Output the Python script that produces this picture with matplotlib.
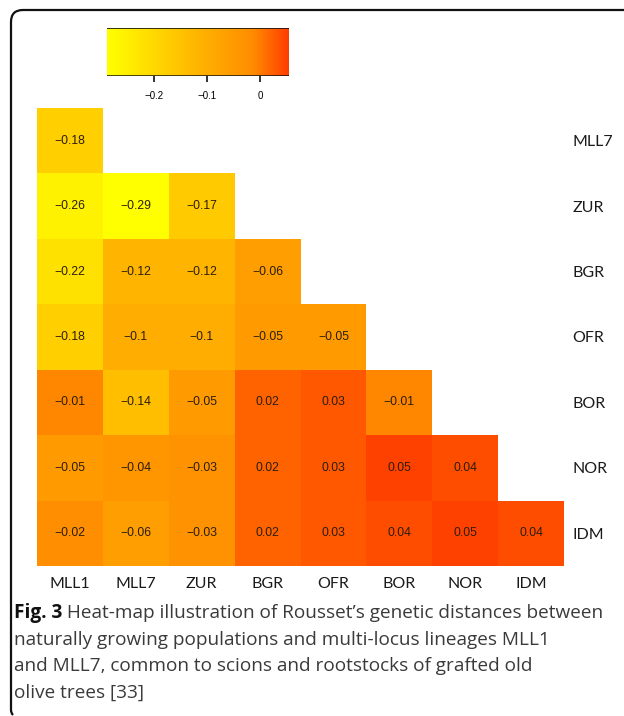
import numpy as np
import matplotlib
matplotlib.use("Agg")
import matplotlib.pyplot as plt
from matplotlib.colors import LinearSegmentedColormap
from matplotlib.path import Path
from matplotlib.patches import PathPatch

col_labels = ["MLL1", "MLL7", "ZUR", "BGR", "OFR", "BOR", "NOR", "IDM"]
row_labels = ["MLL7", "ZUR", "BGR", "OFR", "BOR", "NOR", "IDM"]

# lower-triangle rows
row_mll7 = [-0.18]
row_zur = [-0.26, -0.29, -0.17]
row_bgr = [-0.22, -0.12, -0.12, -0.06]
row_ofr = [-0.18, -0.1, -0.1, -0.05, -0.05]
row_bor = [-0.01, -0.14, -0.05, 0.02, 0.03, -0.01]
row_nor = [-0.05, -0.04, -0.03, 0.02, 0.03, 0.05, 0.04]
row_idm = [-0.02, -0.06, -0.03, 0.02, 0.03, 0.04, 0.05, 0.04]
rows = [row_mll7, row_zur, row_bgr, row_ofr, row_bor, row_nor, row_idm]

cbar_ticks = [-0.2, -0.1, 0]

caption_bold = "Fig. 3"
caption_lines = [
    " Heat-map illustration of Rousset\u2019s genetic distances between",
    "naturally growing populations and multi-locus lineages MLL1",
    "and MLL7, common to scions and rootstocks of grafted old",
    "olive trees [33]",
]

mat = np.full((len(row_labels), len(col_labels)), np.nan)
for i, r in enumerate(rows):
    mat[i, :len(r)] = r
data = np.ma.masked_invalid(mat)

cmap = LinearSegmentedColormap.from_list(
    "yor", [(0.0, "#FFFF00"), (0.5, "#FFB400"), (0.8, "#FF8C00"), (1.0, "#FF3C00")])
vmin, vmax = -0.29, 0.055

W, H = 624, 716
fig = plt.figure(figsize=(W / 100, H / 100), dpi=100)

ax = fig.add_axes([37 / W, 1 - 566 / H, 527 / W, 458 / H])
mesh = ax.pcolormesh(np.arange(len(col_labels) + 1), np.arange(len(row_labels) + 1), data,
                     cmap=cmap, vmin=vmin, vmax=vmax)
ax.set_xlim(0, len(col_labels))
ax.set_ylim(len(row_labels), 0)
for s in ax.spines.values():
    s.set_visible(False)

for i, r in enumerate(rows):
    for j, v in enumerate(r):
        ax.text(j + 0.5, i + 0.5, f"{v:g}".replace("-", "\u2212"), ha="center", va="center",
                fontsize=8.8, color="#2b1d0e", family="Liberation Sans")

ax.set_xticks(np.arange(len(col_labels)) + 0.5)
ax.set_xticklabels(col_labels, family="Lato", fontsize=11.5, color="#1a1a1a")
ax.set_yticks(np.arange(len(row_labels)) + 0.5)
ax.set_yticklabels(row_labels, family="Lato", fontsize=11.5, color="#1a1a1a")
ax.yaxis.tick_right()
ax.tick_params(axis="x", length=0, pad=8)
ax.tick_params(axis="y", length=0, pad=6)

cax = fig.add_axes([107 / W, 1 - 76 / H, 182 / W, 48 / H])
cb = fig.colorbar(mesh, cax=cax, orientation="horizontal", ticks=cbar_ticks)
cb.outline.set_visible(False)
cax.axhline(1, color="#111111", lw=1.2)
cax.axhline(0, color="#111111", lw=1.8)
cax.set_xticklabels([f"{t:g}".replace("-", "\u2212") for t in cbar_ticks],
                    family="Liberation Sans", fontsize=7)
cax.tick_params(axis="x", length=4, width=1.2, pad=7, color="#111111")

# caption
fig.canvas.draw()
renderer = fig.canvas.get_renderer()
y0 = 1 - 613 / H
step = 26.7 / H
fs = 13.7
t = fig.text(14 / W, y0, caption_bold, fontsize=fs, fontweight="bold", family="Open Sans",
             va="center", color="#111111")
bb = t.get_window_extent(renderer=renderer)
fig.text(bb.x1 / W, y0, caption_lines[0], fontsize=fs, family="Open Sans",
         va="center", color="#3a3a3a")
for k, line in enumerate(caption_lines[1:], start=1):
    fig.text(14 / W, y0 - k * step, line, fontsize=fs, family="Open Sans",
             va="center", color="#3a3a3a")

# frame: top and left edges with rounded corner
verts = [(W, H - 10), (23, H - 10), (11, H - 10), (11, H - 22), (11, 6), (11, 3), (13, 1)]
codes = [Path.MOVETO, Path.LINETO, Path.CURVE3, Path.CURVE3, Path.LINETO, Path.CURVE3, Path.CURVE3]
frame = PathPatch(Path([(x / W, y / H) for x, y in verts], codes), transform=fig.transFigure,
                  fill=False, lw=1.6, edgecolor="#111111")
fig.patches.append(frame)

fig.savefig("out.png", dpi=100)
